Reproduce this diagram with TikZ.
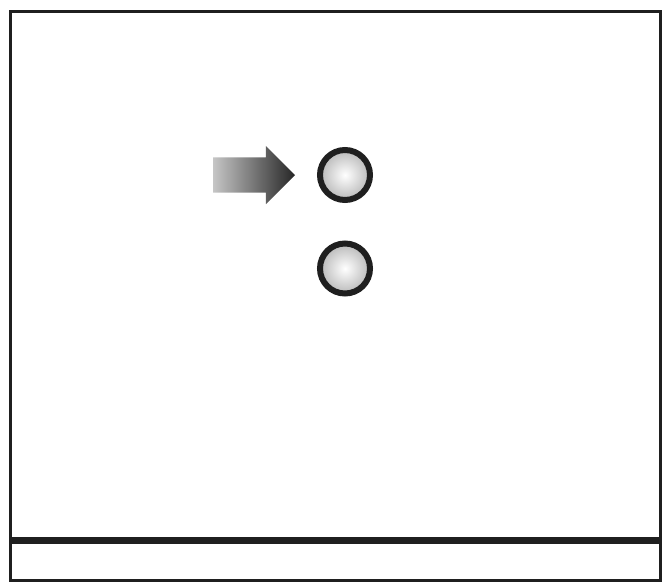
\documentclass[tikz,border=0pt]{standalone}
\usetikzlibrary{positioning, shapes.arrows}

\begin{document}
\begin{tikzpicture}[x=1pt, y=-1pt]
			\useasboundingbox (0,0) rectangle (667,584);
			\draw [line width=3pt, color=black!88] (10,11.5) rectangle (660,580);
			\draw [line width=7pt, color=black!88] (10,540.5) -- (660,540.5);
			\node (lamp1) [circle, draw=black!88, line width=6pt, minimum size=50pt, inner sep=0pt, inner color=white, outer color=gray!55] at (345,175) {};
			\node (lamp2) [circle, draw=black!88, line width=6pt, minimum size=50pt, inner sep=0pt, inner color=white, outer color=gray!55] at (345,268.5) {};
			\node (pointer) [single arrow, anchor=tip, outer sep=0pt, minimum height=82pt, inner xsep=0pt, inner ysep=17.5pt, single arrow head extend=11.5pt, single arrow head indent=0pt, left color=gray!45, right color=black!85] at (295,175) {};
		\end{tikzpicture}
\end{document}
